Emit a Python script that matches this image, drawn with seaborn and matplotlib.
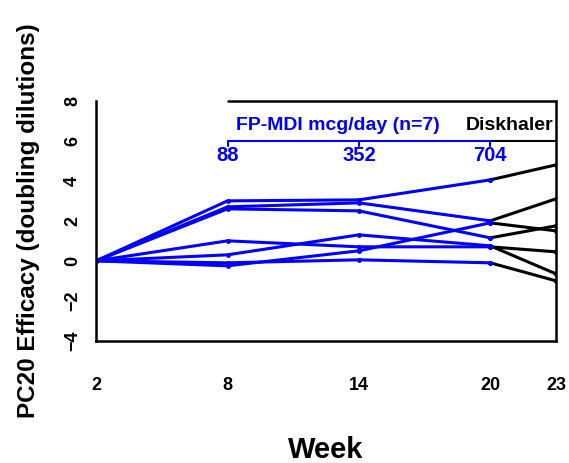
import pandas as pd
import matplotlib.pyplot as plt
import seaborn as sns

sns.set_theme(style="white")
plt.rcParams['font.family'] = ['Liberation Sans', 'DejaVu Sans']
plt.rcParams['text.color'] = 'black'
plt.rcParams['axes.labelcolor'] = 'black'
plt.rcParams['xtick.color'] = 'black'
plt.rcParams['ytick.color'] = 'black'

# Dati
weeks_mdi = [2, 8, 14, 20]
weeks_disk = [20, 23]
patients = ['P1', 'P2', 'P3', 'P4', 'P5', 'P6', 'P7']
mdi_values = [
    [0, 3.0, 3.05, 4.05],
    [0, 2.7, 2.9, 2.0],
    [0, 2.6, 2.5, 1.15],
    [0, 1.0, 0.7, 0.7],
    [0, 0.3, 1.3, 0.75],
    [0, -0.25, 0.5, 1.9],
    [0, -0.1, 0.05, -0.1],
]
disk_values = [
    [4.05, 4.8],
    [2.0, 3.1],
    [1.15, 1.75],
    [0.7, 0.45],
    [0.75, -0.65],
    [1.9, 1.5],
    [-0.1, -1.0],
]
dose_labels = ['88', '352', '704']
dose_weeks = [8, 14, 20]
x_ticks = [2, 8, 14, 20, 23]
y_ticks = [-4, -2, 0, 2, 4, 6, 8]

rows = []
for p, vals in zip(patients, mdi_values):
    for w, v in zip(weeks_mdi, vals):
        rows.append({'patient': p, 'week': w, 'value': v})
df_mdi = pd.DataFrame(rows)
rows = []
for p, vals in zip(patients, disk_values):
    for w, v in zip(weeks_disk, vals):
        rows.append({'patient': p, 'week': w, 'value': v})
df_disk = pd.DataFrame(rows)

fig = plt.figure(figsize=(5.69, 4.63), dpi=100)
ax = fig.add_axes([0.169, 0.264, 0.808, 0.518])

sns.lineplot(data=df_disk, x='week', y='value', units='patient', estimator=None,
             color='black', linewidth=2.2, marker='o', markersize=3.5,
             markeredgewidth=0, ax=ax, legend=False)
sns.lineplot(data=df_mdi, x='week', y='value', units='patient', estimator=None,
             color='#0000ff', linewidth=2.2, marker='o', markersize=3.5,
             markeredgewidth=0, ax=ax, legend=False)

ax.set_xlim(2, 23)
ax.set_ylim(-4, 8)
ax.set_xticks(x_ticks)
ax.set_yticks(y_ticks)
ax.tick_params(axis='both', direction='out', length=5, width=1.5, color='black',
               labelcolor='black', labelsize=13, pad=21)
ax.tick_params(axis='y', labelrotation=90, pad=6)
for lab in ax.get_yticklabels():
    lab.set_va('center')
for lab in ax.get_xticklabels() + ax.get_yticklabels():
    lab.set_fontweight('bold')

for side in ['left', 'bottom', 'right']:
    ax.spines[side].set_color('black')
    ax.spines[side].set_linewidth(1.8)
ax.spines['top'].set_visible(False)
ax.plot([8, 23], [8, 8], color='black', linewidth=1.8, clip_on=False)

# Parentesi delle dosi
ax.plot([8, 20], [6, 6], color='#0000ff', linewidth=1.5)
ax.plot([20, 23], [6, 6], color='black', linewidth=1.5)
for w, lab in zip(dose_weeks, dose_labels):
    ax.plot([w, w], [6, 5.75], color='#0000ff', linewidth=1.5)
    ax.text(w, 5.25, lab, color='#0000ff', fontsize=14.5, fontweight='bold',
            ha='center', va='center')
ax.text(8.4, 6.75, 'FP-MDI mcg/day (n=7)', color='#0000ff', fontsize=14,
        fontweight='bold', ha='left', va='center')
ax.text(22.9, 6.75, 'Diskhaler', color='black', fontsize=14,
        fontweight='bold', ha='right', va='center')

ax.set_xlabel('Week', fontsize=21, fontweight='bold', labelpad=30, color='black')
ax.set_ylabel('PC20 Efficacy (doubling dilutions)', fontsize=17.5, fontweight='bold',
              labelpad=17, color='black')

plt.savefig('out.png', dpi=100)
